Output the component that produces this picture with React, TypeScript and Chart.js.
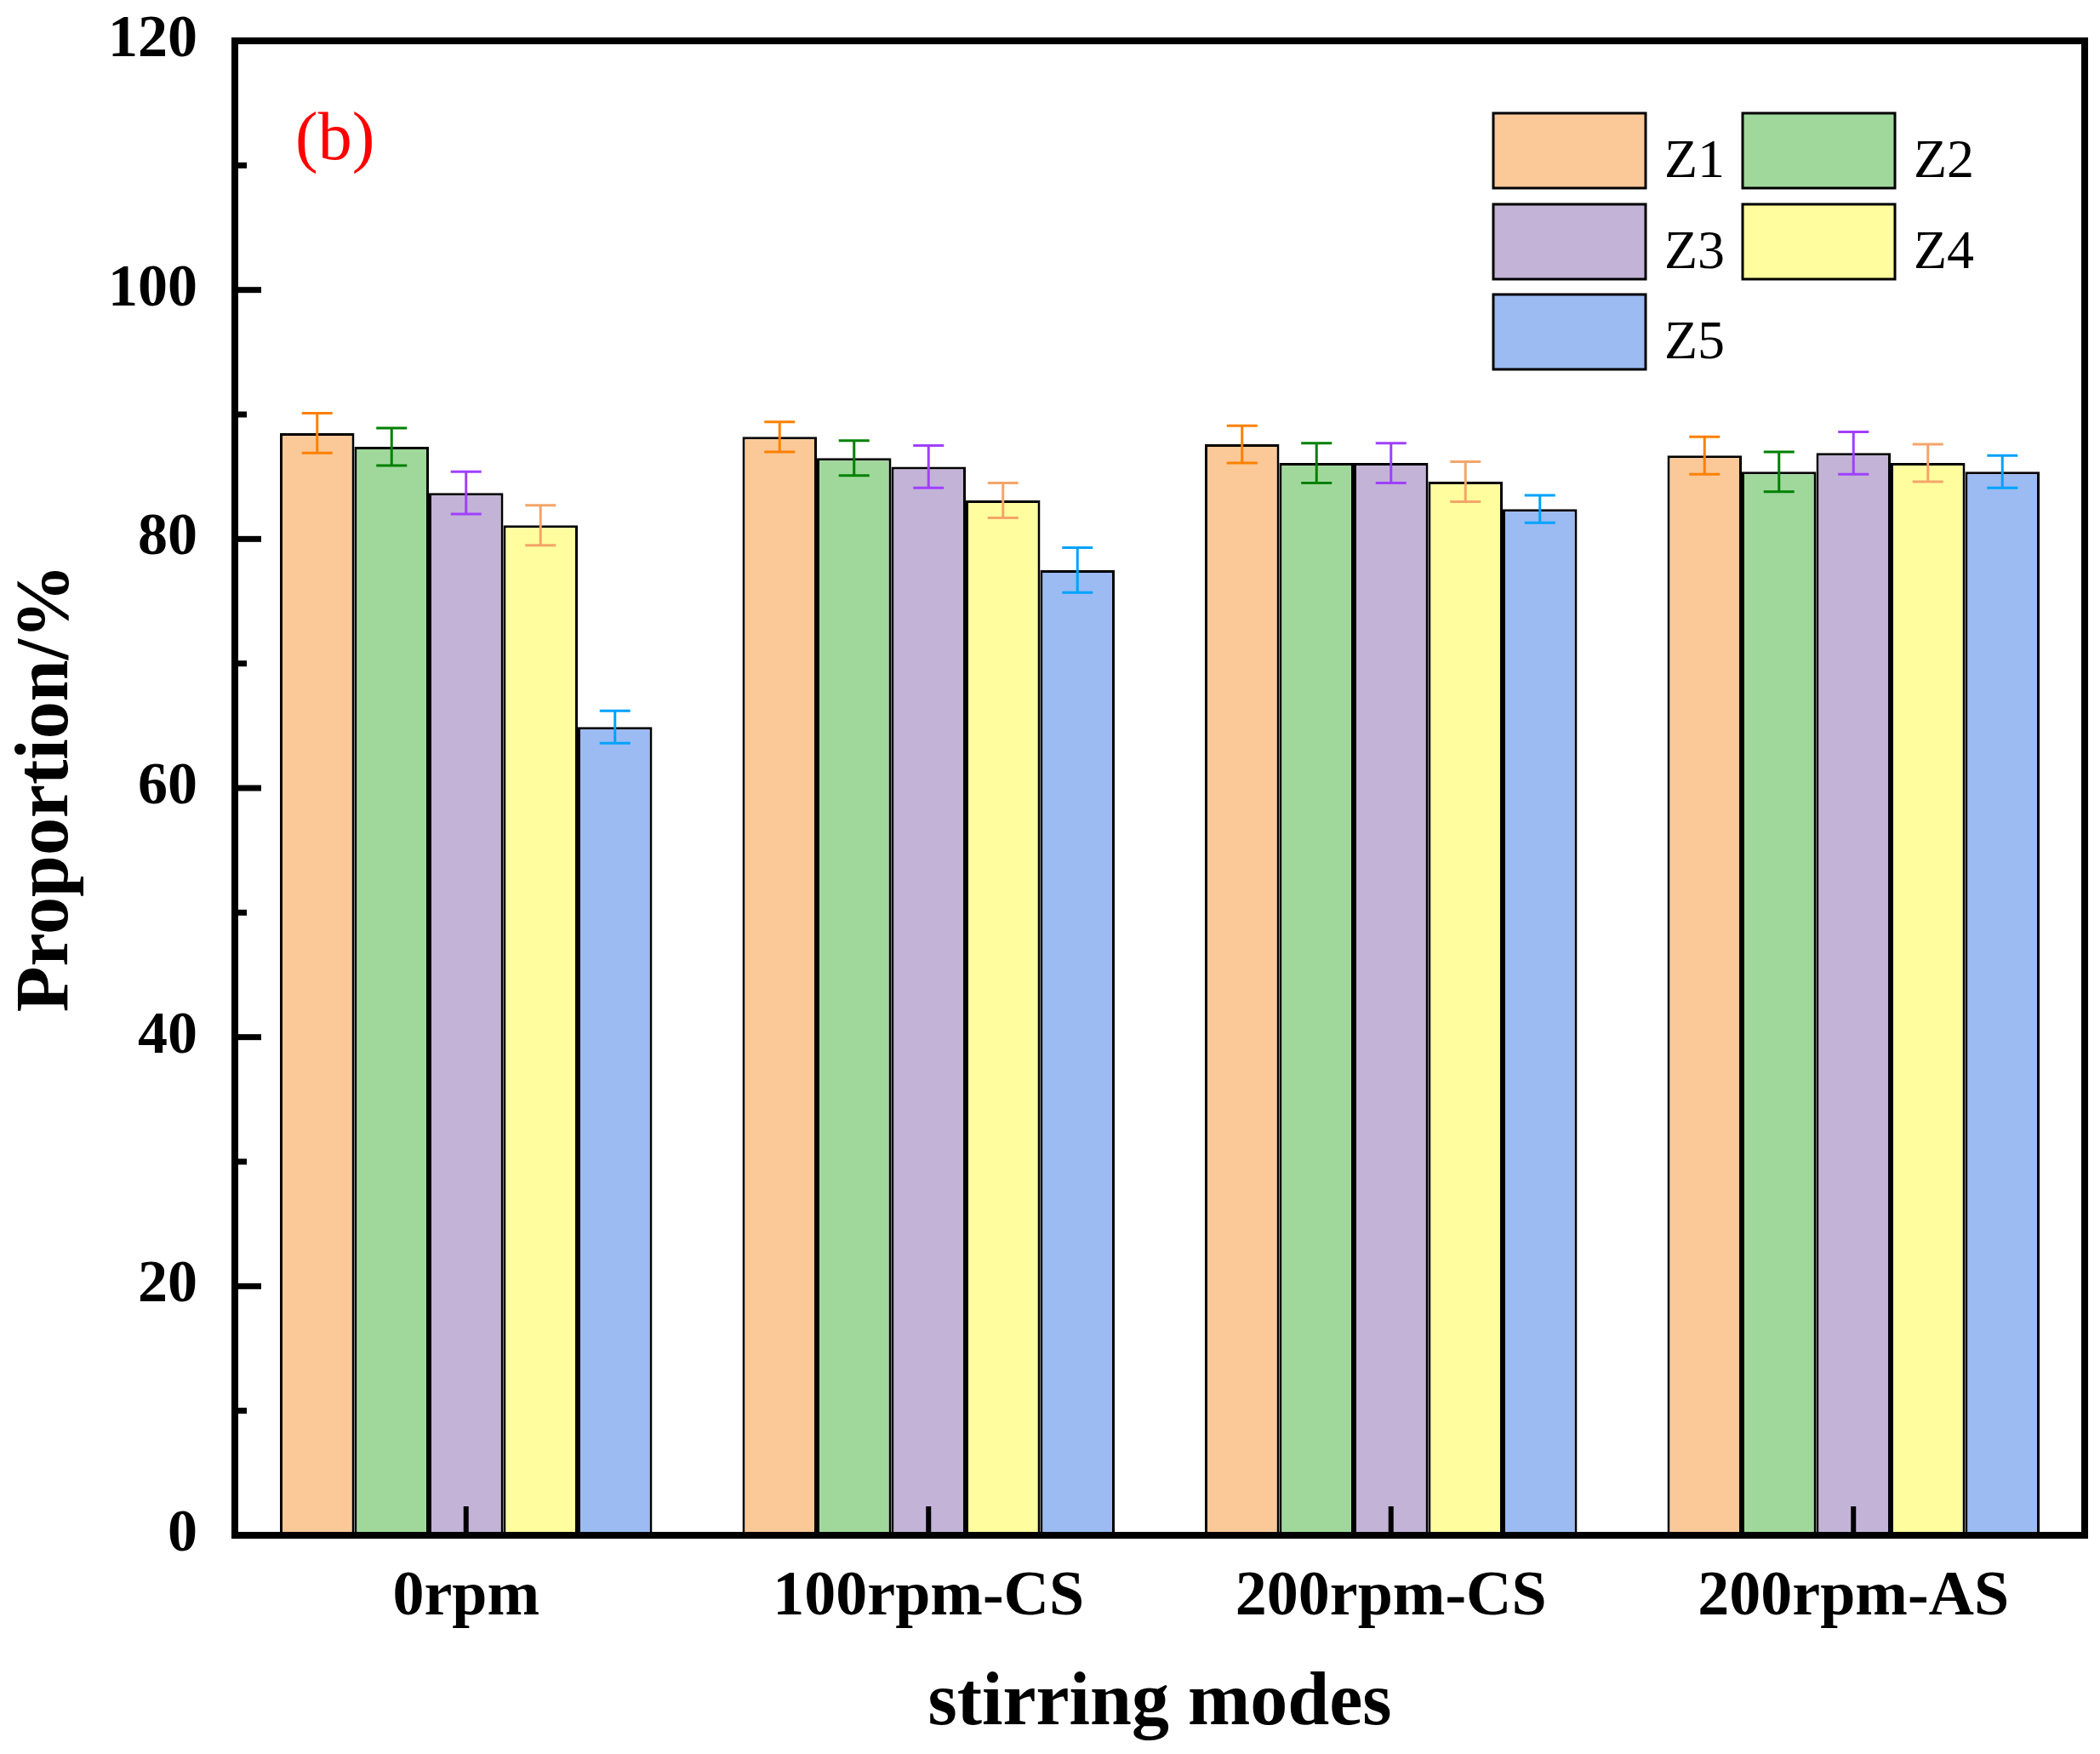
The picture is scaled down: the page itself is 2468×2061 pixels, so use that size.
import { useEffect, useRef } from 'react';
import { Chart, registerables } from 'chart.js';

Chart.register(...registerables);

const categories = ['0rpm', '100rpm-CS', '200rpm-CS', '200rpm-AS'];
const seriesNames = ['Z1', 'Z2', 'Z3', 'Z4', 'Z5'];

const z1 = [88.5, 88.2, 87.6, 86.7];
const z2 = [87.4, 86.5, 86.1, 85.4];
const z3 = [83.7, 85.8, 86.1, 86.9];
const z4 = [81.1, 83.1, 84.6, 86.1];
const z5 = [64.9, 77.5, 82.4, 85.4];

const z1Err = [1.6, 1.2, 1.5, 1.5];
const z2Err = [1.5, 1.4, 1.6, 1.6];
const z3Err = [1.7, 1.7, 1.6, 1.7];
const z4Err = [1.6, 1.4, 1.6, 1.5];
const z5Err = [1.3, 1.8, 1.1, 1.3];

const yTickValues = [0, 20, 40, 60, 80, 100, 120];

const values = [z1, z2, z3, z4, z5];
const errors = [z1Err, z2Err, z3Err, z4Err, z5Err];

const fillColors = ['#FBC898', '#A0D89C', '#C3B3D6', '#FFFD9E', '#9BBBF2'];
const errColors = ['#FF8000', '#008000', '#A040FF', '#F4A56A', '#00A2FF'];

const FONT = "'Liberation Serif', 'Times New Roman', serif";

// error bars, frame, inward ticks
const framePlugin = {
  id: 'frame',
  afterDatasetsDraw(chart: any) {
    const { ctx, chartArea } = chart;
    const x = chart.scales.x;
    const y = chart.scales.y;
    ctx.save();

    chart.data.datasets.forEach((ds: any, di: number) => {
      const meta = chart.getDatasetMeta(di);
      ctx.strokeStyle = errColors[di];
      ctx.lineWidth = 3;
      meta.data.forEach((bar: any, i: number) => {
        const v = ds.data[i];
        const e = errors[di][i];
        const top = y.getPixelForValue(v + e);
        const bot = y.getPixelForValue(v - e);
        ctx.beginPath();
        ctx.moveTo(bar.x, top);
        ctx.lineTo(bar.x, bot);
        ctx.moveTo(bar.x - 18, top);
        ctx.lineTo(bar.x + 18, top);
        ctx.moveTo(bar.x - 18, bot);
        ctx.lineTo(bar.x + 18, bot);
        ctx.stroke();
      });
    });

    ctx.strokeStyle = '#000';
    ctx.lineWidth = 8;
    ctx.strokeRect(chartArea.left, chartArea.top, chartArea.right - chartArea.left, chartArea.bottom - chartArea.top);

    // y ticks (major + minor), pointing in
    ctx.lineWidth = 7;
    yTickValues.forEach((v, i) => {
      const py = y.getPixelForValue(v);
      ctx.beginPath();
      ctx.moveTo(chartArea.left, py);
      ctx.lineTo(chartArea.left + 31, py);
      ctx.stroke();
      if (i < yTickValues.length - 1) {
        const my = y.getPixelForValue((v + yTickValues[i + 1]) / 2);
        ctx.beginPath();
        ctx.moveTo(chartArea.left, my);
        ctx.lineTo(chartArea.left + 14, my);
        ctx.stroke();
      }
    });

    // x ticks
    ctx.lineWidth = 6;
    categories.forEach((_, i) => {
      const px = x.getPixelForValue(i);
      ctx.beginPath();
      ctx.moveTo(px, chartArea.bottom);
      ctx.lineTo(px, chartArea.bottom - 34);
      ctx.stroke();
    });
    ctx.restore();
  },
  afterDraw(chart: any) {
    const { ctx } = chart;
    ctx.save();
    // legend, two columns
    const colX = [1755, 2048];
    const rowY = [133, 240, 346];
    ctx.font = `64px ${FONT}`;
    ctx.textBaseline = 'alphabetic';
    ctx.textAlign = 'left';
    chart.data.datasets.forEach((ds: any, i: number) => {
      const bx = colX[i % 2];
      const by = rowY[Math.floor(i / 2)];
      ctx.fillStyle = ds.backgroundColor;
      ctx.fillRect(bx, by, 179, 88);
      ctx.strokeStyle = '#000';
      ctx.lineWidth = 3;
      ctx.strokeRect(bx, by, 179, 88);
      ctx.fillStyle = '#000';
      ctx.fillText(ds.label, bx + 179 + 22, by + 75);
    });

    ctx.fillStyle = '#FF0000';
    ctx.font = `80px ${FONT}`;
    ctx.fillText('(b)', 347, 187);
    ctx.restore();
  },
};

const App = () => {
  const chartRef = useRef<HTMLCanvasElement>(null);

  useEffect(() => {
    const ctx = chartRef.current!.getContext('2d')!;
    const chart = new Chart(ctx, {
      type: 'bar',
      data: {
        labels: categories,
        datasets: seriesNames.map((name, i) => ({
          label: name,
          data: values[i],
          backgroundColor: fillColors[i],
          borderColor: '#000',
          borderWidth: 3,
          categoryPercentage: 0.805,
          barPercentage: 1.0,
        })),
      },
      options: {
        responsive: false,
        animation: false,
        devicePixelRatio: 1,
        layout: { padding: { left: 0, right: 18, top: 48, bottom: 5 } },
        plugins: {
          legend: { display: false },
          tooltip: { enabled: false },
        },
        scales: {
          x: {
            offset: true,
            grid: { display: false, drawTicks: false },
            border: { display: false },
            afterFit: (scale: any) => {
              scale.height = 252;
              scale.paddingLeft = 0;
              scale.paddingRight = 0;
            },
            ticks: {
              color: '#000',
              font: { family: FONT, size: 74, weight: 'bold' },
              padding: 29,
              maxRotation: 0,
              autoSkip: false,
            },
            title: {
              display: true,
              text: 'stirring modes',
              color: '#000',
              font: { family: FONT, size: 88, weight: 'bold' },
              padding: { top: 28, bottom: 0 },
            },
          },
          y: {
            min: 0,
            max: 120,
            grid: { display: false, drawTicks: false },
            border: { display: false },
            afterBuildTicks: (scale: any) => {
              scale.ticks = yTickValues.map((v) => ({ value: v }));
            },
            afterFit: (scale: any) => {
              scale.width = 276;
              scale.paddingTop = 0;
              scale.paddingBottom = 0;
            },
            ticks: {
              color: '#000',
              font: { family: FONT, size: 70, weight: 'bold' },
              padding: 44,
            },
            title: {
              display: true,
              text: 'Proportion/%',
              color: '#000',
              font: { family: FONT, size: 88, weight: 'bold' },
              padding: { top: 3, bottom: 18 },
            },
          },
        },
      },
      plugins: [framePlugin],
    });

    return () => {
      chart.destroy();
    };
  }, []);

  return (
    <div style={{ position: 'absolute', left: 0, top: 0, width: 2468, height: 2061, background: '#fff' }}>
      <canvas ref={chartRef} width={2468} height={2061} style={{ display: 'block' }} />
    </div>
  );
};

export default App;
